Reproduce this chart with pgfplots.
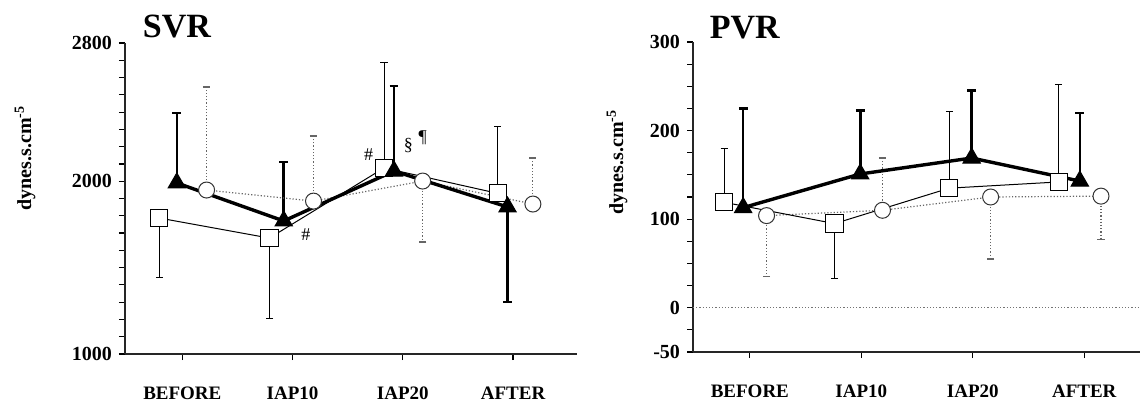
\documentclass[border=0pt]{standalone}
\usepackage{fontspec}
\setmainfont{Liberation Serif}
\usepackage{pgfplots}
\pgfplotsset{compat=1.18}

\tikzset{ttl/.style={anchor=base, inner sep=0pt, font=\fontsize{17}{20}\selectfont\bfseries}}

\pgfplotsset{
  panel/.style={
    scale only axis, clip=false,
    axis x line=bottom, axis y line=left,
    axis line style={-, line width=0.9pt, black!85},
    tick align=outside, major tick length=3pt, minor tick length=3pt,
    tick style={black, line width=0.6pt},
    xtick={0,1,2,3}, xticklabels={BEFORE,IAP10,IAP20,AFTER},
    x tick label style={font=\fontsize{9.5}{11}\selectfont\bfseries, yshift=-10pt},
    y tick label style={font=\fontsize{10}{12}\selectfont\bfseries},
    ylabel={dynes.s.cm\textsuperscript{-5}},
    ylabel style={font=\fontsize{10}{12}\selectfont\bfseries, anchor=center},
  },
  sq/.style={black, line width=0.5pt, mark=square*, mark size=4.3pt,
    mark options={fill=white, line width=0.5pt, solid}},
  tri/.style={black, line width=1.7pt, mark=triangle*, mark size=5pt,
    mark options={fill=black, line width=0.5pt, solid}},
  ci/.style={black!60, densely dotted, line width=0.6pt, mark=*, mark size=4pt,
    mark options={fill=white, draw=black!80, line width=0.5pt, solid}},
  sqerr/.style={draw=none, mark=none, forget plot,
    error bars/y explicit,
    error bars/error bar style={black, line width=0.5pt, solid},
    error bars/error mark options={rotate=90, black, line width=0.5pt, mark size=1.8pt}},
  trierr/.style={draw=none, mark=none, forget plot,
    error bars/y explicit,
    error bars/error bar style={black, line width=1.3pt, solid},
    error bars/error mark options={rotate=90, black, line width=1.3pt, mark size=2.2pt}},
  cierr/.style={draw=none, mark=none, forget plot,
    error bars/y explicit,
    error bars/error bar style={black!60, line width=0.6pt, densely dotted},
    error bars/error mark options={rotate=90, black!60, line width=0.6pt, mark size=1.8pt, solid}},
}

\begin{document}
\begin{tikzpicture}
\useasboundingbox (0,0) rectangle (573.5pt,201.5pt);

% SVR
\begin{axis}[panel,
  at={(62.5pt,24.5pt)}, anchor=south west,
  width=226pt, height=155.5pt,
  xmin=-0.52, xmax=3.58, ymin=1000, ymax=2800,
  ytick={1000,2000,2800}, yticklabels={1000,2000,2800},
  minor ytick={1100,1200,...,2700},
  ylabel style={at={(axis description cs:-0.221,0.63)}},
]
\addplot[cierr, error bars/y dir=plus] coordinates {(0.22,1949) +- (0,596) (1.19,1885) +- (0,377) (3.18,1868) +- (0,266)};
\addplot[cierr, error bars/y dir=minus] coordinates {(2.18,2001) +- (0,353)};
\addplot[sqerr, error bars/y dir=minus] coordinates {(-0.21,1787) +- (0,347) (0.79,1671) +- (0,463)};
\addplot[sqerr, error bars/y dir=plus] coordinates {(1.83,2077) +- (0,613) (2.86,1930) +- (0,384)};
\addplot[trierr, error bars/y dir=plus] coordinates {(-0.05,1990) +- (0,405) (0.92,1770) +- (0,341) (1.92,2059) +- (0,492)};
\addplot[trierr, error bars/y dir=minus] coordinates {(2.95,1851) +- (0,550)};

\addplot[ci] coordinates {(0.22,1949) (1.19,1885) (2.18,2001) (3.18,1868)};
\addplot[sq] coordinates {(-0.21,1787) (0.79,1671) (1.83,2077) (2.86,1930)};
\addplot[tri] coordinates {(-0.05,1990) (0.92,1770) (1.92,2059) (2.95,1851)};

\node[ttl] at (axis description cs:0.115,1.019) {SVR};
\node[font=\fontsize{9}{10}\selectfont] at (axis cs:1.12,1689) {\#};
\node[font=\fontsize{9}{10}\selectfont] at (axis cs:1.69,2152) {\#};
\node[font=\fontsize{9}{10}\selectfont] at (axis cs:2.05,2204) {\S};
\node[font=\fontsize{9}{10}\selectfont] at (axis cs:2.18,2250) {\P};
\end{axis}

% PVR
\begin{axis}[panel,
  at={(346.5pt,25.5pt)}, anchor=south west,
  width=223.5pt, height=155pt,
  xmin=-0.51, xmax=3.5, ymin=-50, ymax=300,
  ytick={-50,0,100,200,300}, yticklabels={-50,0,100,200,300},
  minor ytick={-25,25,50,75,125,150,175,225,250,275},
  ylabel style={at={(axis description cs:-0.17,0.613)}},
]
\draw[black!55, densely dotted, line width=0.6pt] (axis cs:-0.51,0) -- (axis cs:3.5,0);

\addplot[cierr, error bars/y dir=minus] coordinates {(0.15,104) +- (0,69) (2.16,125) +- (0,70) (3.15,126) +- (0,49)};
\addplot[cierr, error bars/y dir=plus] coordinates {(1.19,110) +- (0,59)};
\addplot[sqerr, error bars/y dir=plus] coordinates {(-0.23,119) +- (0,61) (1.79,135) +- (0,87) (2.77,142) +- (0,110)};
\addplot[sqerr, error bars/y dir=minus] coordinates {(0.76,95) +- (0,62)};
\addplot[trierr, error bars/y dir=plus] coordinates {(-0.06,113) +- (0,112) (0.99,151) +- (0,72) (1.99,169) +- (0,76) (2.96,143) +- (0,77)};

\addplot[ci] coordinates {(0.15,104) (1.19,110) (2.16,125) (3.15,126)};
\addplot[sq] coordinates {(-0.23,119) (0.76,95) (1.79,135) (2.77,142)};
\addplot[tri] coordinates {(-0.06,113) (0.99,151) (1.99,169) (2.96,143)};

\node[ttl] at (axis description cs:0.116,1.01) {PVR};
\end{axis}
\end{tikzpicture}
\end{document}
